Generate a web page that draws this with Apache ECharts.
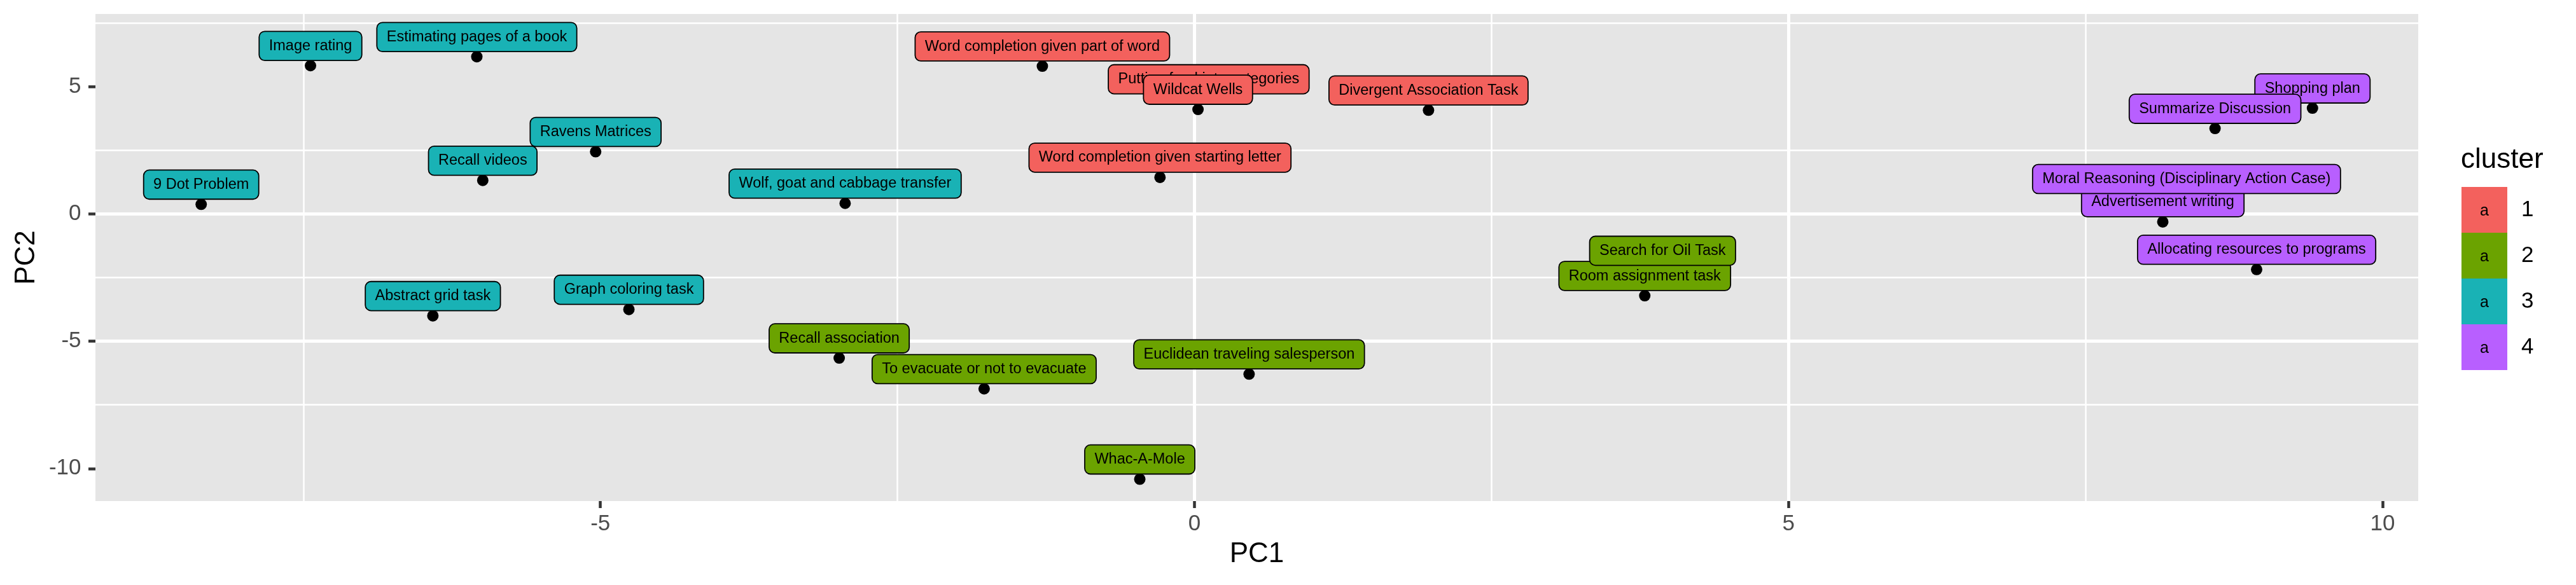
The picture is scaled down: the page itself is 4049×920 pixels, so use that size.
<!DOCTYPE html>
<html>
<head>
<meta charset="utf-8">
<script src="https://cdn.jsdelivr.net/npm/echarts@6/dist/echarts.min.js"></script>
<style>
html,body{margin:0;padding:0;background:#fff;}
#chart{width:4049px;height:920px;}
</style>
</head>
<body>
<div id="chart"></div>
<script>
// ---- data ----
const clusterNames = ['1', '2', '3', '4'];
const clusterColors = ['#F3615D', '#6BA300', '#19B2B5', '#B85FFF'];

const cluster1Tasks = ['Word completion given part of word', 'Putting food into categories', 'Wildcat Wells', 'Word completion given starting letter', 'Divergent Association Task'];
const cluster1PC1 = [-1.28, 0.12, 0.03, -0.29, 1.97];
const cluster1PC2 = [5.81, 4.52, 4.11, 1.44, 4.08];

const cluster2Tasks = ['Recall association', 'To evacuate or not to evacuate', 'Euclidean traveling salesperson', 'Whac-A-Mole', 'Room assignment task', 'Search for Oil Task'];
const cluster2PC1 = [-2.99, -1.77, 0.46, -0.46, 3.79, 3.94];
const cluster2PC2 = [-5.66, -6.87, -6.29, -10.42, -3.21, -2.22];

const cluster3Tasks = ['9 Dot Problem', 'Image rating', 'Estimating pages of a book', 'Recall videos', 'Ravens Matrices', 'Abstract grid task', 'Graph coloring task', 'Wolf, goat and cabbage transfer'];
const cluster3PC1 = [-8.36, -7.44, -6.04, -5.99, -5.04, -6.41, -4.76, -2.94];
const cluster3PC2 = [0.38, 5.83, 6.18, 1.32, 2.45, -4.00, -3.75, 0.42];

const cluster4Tasks = ['Shopping plan', 'Summarize Discussion', 'Advertisement writing', 'Moral Reasoning (Disciplinary Action Case)', 'Allocating resources to programs'];
const cluster4PC1 = [9.41, 8.59, 8.15, 8.35, 8.94];
const cluster4PC2 = [4.16, 3.36, -0.31, 0.60, -2.18];

const xTicks = [-5, 0, 5, 10];
const yTicks = [-10, -5, 0, 5];
const xRange = [-9.25, 10.30];
const yRange = [-11.28, 7.86];

// ---- build ----
const FONT = "'Liberation Sans', Arial, Helvetica, sans-serif";
const groups = [
  [cluster1Tasks, cluster1PC1, cluster1PC2],
  [cluster2Tasks, cluster2PC1, cluster2PC2],
  [cluster3Tasks, cluster3PC1, cluster3PC2],
  [cluster4Tasks, cluster4PC1, cluster4PC2]
];

function keyIcon(color) {
  const svg = '<svg xmlns="http://www.w3.org/2000/svg" width="72" height="72">' +
    '<rect x="0" y="0" width="72" height="72" fill="' + color + '"/>' +
    '<text x="36" y="45" font-family="Liberation Sans, Arial, sans-serif" font-size="25" text-anchor="middle" fill="#000">a</text></svg>';
  return 'image://data:image/svg+xml;charset=utf-8,' + encodeURIComponent(svg);
}

const series = groups.map(function (g, i) {
  return {
    name: clusterNames[i],
    type: 'scatter',
    symbol: 'circle',
    symbolSize: 18,
    itemStyle: { color: '#000', opacity: 1 },
    emphasis: { disabled: true },
    silent: true,
    data: g[0].map(function (n, j) { return { name: n, value: [g[1][j], g[2][j]] }; }),
    label: {
      show: true,
      position: 'top',
      distance: 0,
      formatter: '{b}',
      fontFamily: FONT,
      fontSize: 23.5,
      lineHeight: 24,
      color: '#000',
      backgroundColor: clusterColors[i],
      borderColor: '#000',
      borderWidth: 1.8,
      borderRadius: 8,
      padding: [10, 14.5]
    }
  };
});

function axisCommon(ticks, margin) {
  return {
    axisLine: { show: false, onZero: false },
    axisTick: { show: true, length: 11, customValues: ticks, lineStyle: { color: '#333333', width: 4.5 } },
    axisLabel: { customValues: ticks, margin: margin, fontFamily: FONT, fontSize: 35, color: '#4D4D4D' },
    splitLine: { show: true, showMinLine: false, showMaxLine: false, lineStyle: { color: '#FFFFFF', width: 5 } },
    minorTick: { show: false, splitNumber: 2 },
    minorSplitLine: { show: true, lineStyle: { color: '#FFFFFF', width: 2.5 } }
  };
}

const chart = echarts.init(document.getElementById('chart'), null, { renderer: 'canvas' });
chart.setOption({
  animation: false,
  backgroundColor: '#fff',
  title: {
    text: 'cluster',
    left: 3868,
    top: 230,
    padding: 0,
    textStyle: { fontFamily: FONT, fontSize: 44, fontWeight: 'normal', color: '#000' }
  },
  legend: {
    orient: 'vertical',
    left: 3869,
    top: 294,
    padding: 0,
    itemWidth: 72,
    itemHeight: 72,
    itemGap: 0,
    selectedMode: false,
    data: clusterNames.map(function (n, i) { return { name: n, icon: keyIcon(clusterColors[i]) }; }),
    textStyle: { fontFamily: FONT, fontSize: 35, color: '#000', padding: [0, 0, 0, 17] }
  },
  grid: {
    left: 150, right: 248, top: 22, bottom: 132,
    show: true, backgroundColor: '#E5E5E5', borderWidth: 0,
    containLabel: false, outerBoundsMode: 'none'
  },
  xAxis: Object.assign({
    type: 'value',
    min: xRange[0], max: xRange[1],
    splitNumber: 4,
    name: 'PC1', nameLocation: 'middle', nameGap: 62,
    nameTextStyle: { fontFamily: FONT, fontSize: 44, color: '#000' }
  }, axisCommon(xTicks, 19)),
  yAxis: Object.assign({
    type: 'value',
    min: yRange[0], max: yRange[1],
    splitNumber: 4,
    name: 'PC2', nameLocation: 'middle', nameGap: 86, nameRotate: 90,
    nameTextStyle: { fontFamily: FONT, fontSize: 44, color: '#000' }
  }, axisCommon(yTicks, 22.5)),
  series: series
});
</script>
</body>
</html>
